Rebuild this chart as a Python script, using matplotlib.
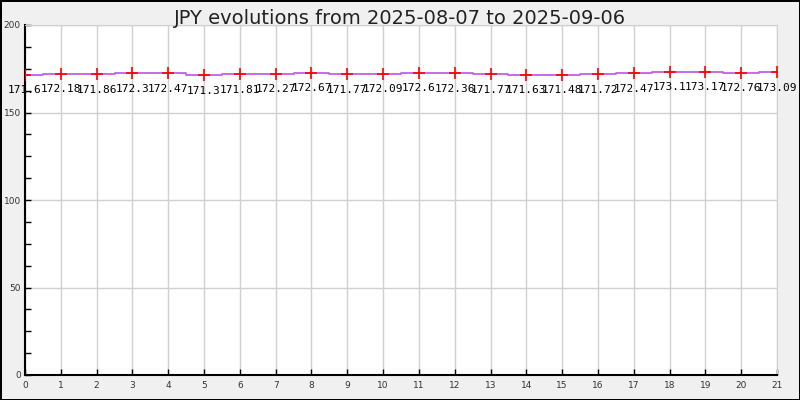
import matplotlib
matplotlib.use("Agg")
import matplotlib.pyplot as plt
from matplotlib.ticker import MultipleLocator

# JPY rates, 2025-08-07 -> 2025-09-06
days = list(range(22))
rates = [171.6, 172.18, 171.86, 172.3, 172.47, 171.3, 171.81, 172.27, 172.67, 171.77,
         172.09, 172.6, 172.36, 171.77, 171.63, 171.48, 171.72, 172.47, 173.1, 173.17,
         172.76, 173.09]
title = "JPY evolutions from 2025-08-07 to 2025-09-06"

fig = plt.figure(figsize=(8, 4), dpi=100, facecolor="#f0f0f0",
                 edgecolor="black", linewidth=2)
ax = fig.add_axes([0.03125, 0.0625, 0.94, 0.875])

ax.plot(days, rates, drawstyle="steps-mid", color="#c060e8", lw=1.3, zorder=3)
ax.plot(days, rates, ls="none", marker="+", color="red", ms=9, mew=1.2, zorder=4)
for x, y in zip(days, rates):
    ax.annotate("%g" % y, (x, y), xytext=(0, -7.5), textcoords="offset points",
                ha="center", va="top", family="DejaVu Sans Mono", fontsize=8)

ax.set_xlim(0, 21)
ax.set_ylim(0, 200)
ax.xaxis.set_major_locator(MultipleLocator(1))
ax.yaxis.set_major_locator(MultipleLocator(50))
ax.yaxis.set_minor_locator(MultipleLocator(12.5))
ax.grid(True, color="#d0d0d0", lw=1)
ax.set_axisbelow(True)
ax.tick_params(which="both", direction="in", length=4, width=1, labelsize=6.5,
               labelcolor="#333333", top=False, right=False)
ax.tick_params(axis="y", pad=3)
ax.tick_params(axis="x", pad=4)
for s in ["top", "right"]:
    ax.spines[s].set_color("#d0d0d0")
for s in ["left", "bottom"]:
    ax.spines[s].set_linewidth(1.5)

fig.text(0.5, 0.955, title, ha="center", va="center", fontsize=14, color="#222222")

fig.savefig("out.png", facecolor=fig.get_facecolor(), edgecolor=fig.get_edgecolor())
